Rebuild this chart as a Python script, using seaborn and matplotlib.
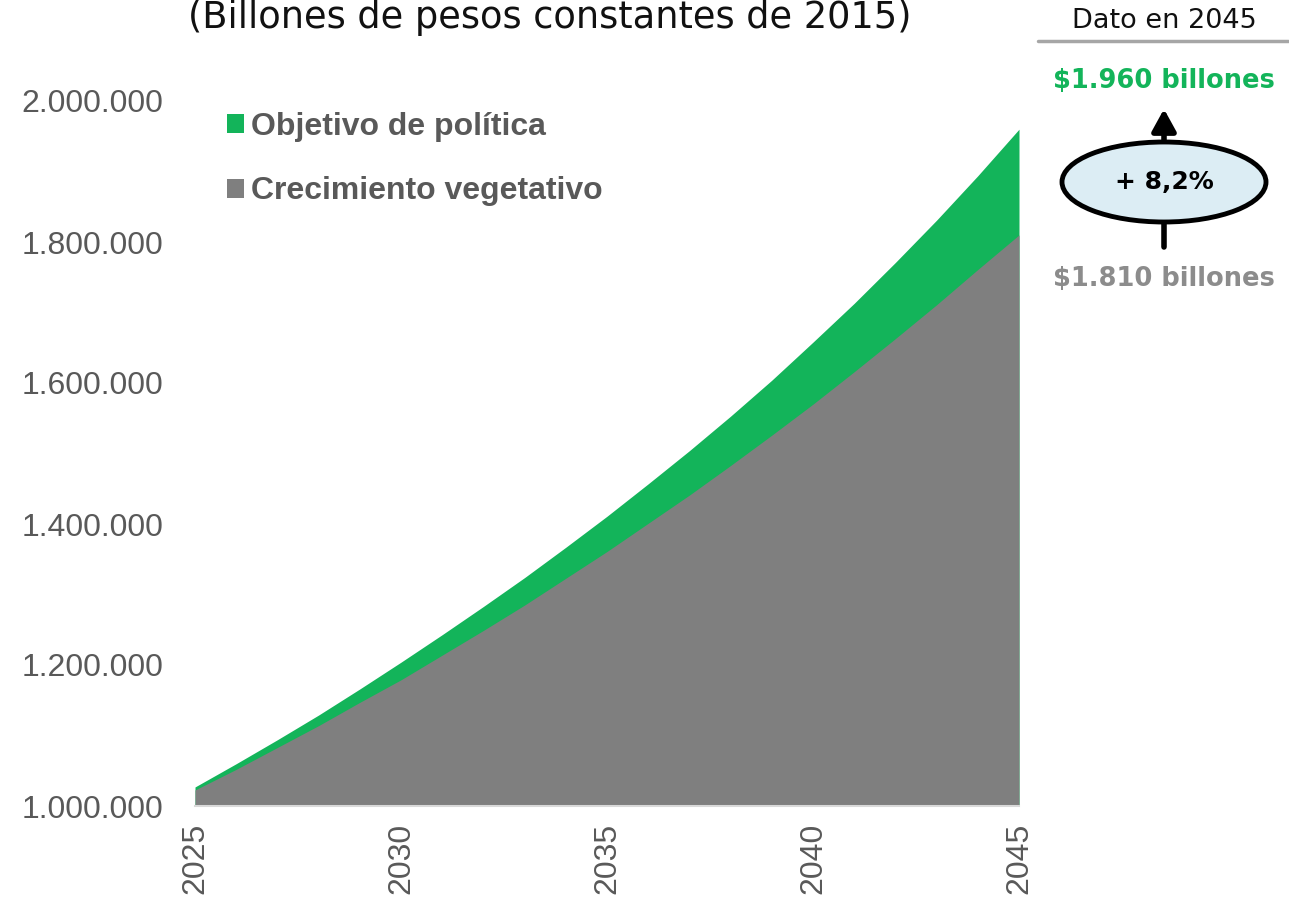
import matplotlib
matplotlib.use("Agg")
import matplotlib.pyplot as plt
from matplotlib.patches import Ellipse
from matplotlib.ticker import FuncFormatter
import seaborn as sns
import pandas as pd

# ---- data ----
years = list(range(2025, 2046))
crecimiento_vegetativo = [1022700, 1052000, 1083000, 1114000, 1147000, 1179000,
                          1214000, 1249000, 1285000, 1323000, 1361000, 1401000,
                          1441000, 1483000, 1526000, 1570000, 1616000, 1663000,
                          1711000, 1761000, 1810000]
objetivo_politica = [1027000, 1060000, 1094000, 1129000, 1166000, 1204000,
                     1243000, 1283000, 1324000, 1367000, 1411000, 1457000,
                     1504000, 1553000, 1604000, 1658000, 1713000, 1771000,
                     1831000, 1894000, 1960000]
series_names = ["Objetivo de política", "Crecimiento vegetativo"]
title_text = "(Billones de pesos constantes de 2015)"
x_ticks = [2025, 2030, 2035, 2040, 2045]
y_ticks = [1000000, 1200000, 1400000, 1600000, 1800000, 2000000]
panel_title = "Dato en 2045"
label_top = "$1.960 billones"
label_bottom = "$1.810 billones"
label_pct = "+ 8,2%"

df = pd.DataFrame({"year": years, "veg": crecimiento_vegetativo, "obj": objetivo_politica})

GREEN = "#13b45a"
GRAY = "#7f7f7f"
TXT = "#595959"
GEO = ["DejaVu Sans"]

sns.set_theme(style="white")
plt.rcParams["font.family"] = ["Liberation Sans", "DejaVu Sans"]

W, H = 1289, 900
fig = plt.figure(figsize=(W / 100, H / 100), dpi=100)
ax = fig.add_axes([195 / W, 1 - 806 / H, (1019 - 195) / W, (806 - 101) / H])

base = y_ticks[0]
ax.fill_between(df["year"], base, df["obj"], color=GREEN, linewidth=0, label=series_names[0])
ax.fill_between(df["year"], base, df["veg"], color=GRAY, linewidth=0, label=series_names[1])
sns.lineplot(data=df, x="year", y="veg", ax=ax, color=GRAY, linewidth=0, legend=False)

ax.set_xlim(years[0], years[-1])
ax.set_ylim(y_ticks[0], y_ticks[-1])
ax.set_xticks(x_ticks)
ax.set_yticks(y_ticks)
ax.yaxis.set_major_formatter(FuncFormatter(lambda v, p: f"{int(v):,}".replace(",", ".")))
ax.set_xlabel("")
ax.set_ylabel("")
ax.tick_params(axis="y", length=0, pad=23, labelsize=23, labelcolor=TXT)
ax.tick_params(axis="x", length=0, pad=12, labelsize=23, labelcolor=TXT, rotation=90)
for s in ["top", "right", "left"]:
    ax.spines[s].set_visible(False)
ax.spines["bottom"].set_color("#d9d9d9")
ax.spines["bottom"].set_linewidth(1.5)
ax.grid(False)

leg = ax.legend(loc="upper left", bbox_to_anchor=(227 / W, 1 - 112 / H),
                bbox_transform=fig.transFigure, frameon=False, borderpad=0,
                borderaxespad=0, fontsize=23, labelspacing=1.08,
                handlelength=0.53, handleheight=0.53, handletextpad=0.22)
for t in leg.get_texts():
    t.set_color(TXT)
    t.set_fontweight("bold")

# title (at the very top edge)
fig.text(550 / W, 1 - 28 / H, title_text, ha="center", va="baseline",
         fontsize=26.5, color="#111111", family=GEO)

# right panel
cx = 1164 / W
fig.text(cx, 1 - 21 / H, panel_title, ha="center", va="center", fontsize=19.5,
         color="#111111", family=GEO)
fig.add_artist(plt.Line2D([1038 / W, 1 - 1 / W], [1 - 41 / H, 1 - 41 / H],
                          color="#a6a6a6", linewidth=2.5, transform=fig.transFigure))
fig.text(cx, 1 - 81 / H, label_top, ha="center", va="center", fontsize=18.5,
         fontweight="bold", color=GREEN, family=GEO)
fig.text(cx, 1 - 279 / H, label_bottom, ha="center", va="center", fontsize=18.5,
         fontweight="bold", color="#8c8c8c", family=GEO)

ax.annotate("", xy=(cx, 1 - 109 / H), xytext=(cx, 1 - 247 / H),
            xycoords="figure fraction", textcoords="figure fraction",
            arrowprops=dict(arrowstyle="-|>,head_length=0.6,head_width=0.33",
                            lw=4, color="black", shrinkA=0, shrinkB=0,
                            mutation_scale=22))
ell = Ellipse((cx, 1 - 182 / H), 204 / W, 80 / H, transform=fig.transFigure,
              facecolor="#dcedf4", edgecolor="black", linewidth=3.5, zorder=5)
fig.add_artist(ell)
fig.text(cx, 1 - 182 / H, label_pct, ha="center", va="center", fontsize=18,
         fontweight="bold", color="black", zorder=6, family=GEO)

fig.savefig("out.png", dpi=100)
